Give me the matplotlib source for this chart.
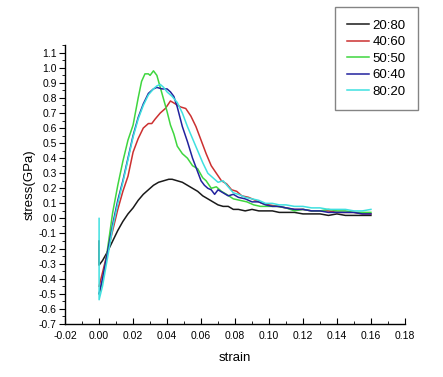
import matplotlib
matplotlib.use('Agg')
import matplotlib.pyplot as plt
from matplotlib.ticker import MultipleLocator

plt.rcParams['font.family'] = ['Liberation Sans', 'DejaVu Sans']

# 20:80
x_2080 = [0.0, 0.0, 0.002, 0.005, 0.008, 0.011, 0.014, 0.017, 0.020, 0.023, 0.026, 0.029,
          0.032, 0.035, 0.038, 0.041, 0.043, 0.046, 0.049, 0.052, 0.055, 0.058, 0.061,
          0.064, 0.067, 0.070, 0.073, 0.076, 0.079, 0.082, 0.086, 0.090, 0.094, 0.098,
          0.102, 0.106, 0.110, 0.115, 0.120, 0.125, 0.130, 0.135, 0.140, 0.145, 0.150,
          0.155, 0.160]
y_2080 = [-0.15, -0.31, -0.28, -0.22, -0.15, -0.08, -0.02, 0.03, 0.07, 0.12, 0.16, 0.19,
          0.22, 0.24, 0.25, 0.26, 0.26, 0.25, 0.24, 0.22, 0.20, 0.18, 0.15,
          0.13, 0.11, 0.09, 0.08, 0.08, 0.06, 0.06, 0.05, 0.06, 0.05, 0.05,
          0.05, 0.04, 0.04, 0.04, 0.03, 0.03, 0.03, 0.02, 0.03, 0.02, 0.02,
          0.02, 0.02]

# 40:60
x_4060 = [0.0, 0.002, 0.005, 0.008, 0.011, 0.014, 0.017, 0.020, 0.023, 0.026, 0.029, 0.031,
          0.033, 0.036, 0.039, 0.042, 0.045, 0.048, 0.051, 0.054, 0.057, 0.060, 0.063,
          0.066, 0.069, 0.072, 0.075, 0.078, 0.081, 0.084, 0.088, 0.092, 0.096, 0.100,
          0.105, 0.110, 0.115, 0.120, 0.125, 0.130, 0.135, 0.140, 0.145, 0.150, 0.155,
          0.160]
y_4060 = [-0.45, -0.36, -0.22, -0.08, 0.06, 0.18, 0.28, 0.44, 0.53, 0.60, 0.63, 0.63,
          0.66, 0.70, 0.73, 0.78, 0.76, 0.74, 0.73, 0.68, 0.61, 0.52, 0.43,
          0.35, 0.30, 0.25, 0.23, 0.19, 0.18, 0.15, 0.14, 0.12, 0.10, 0.09,
          0.08, 0.07, 0.06, 0.06, 0.05, 0.05, 0.05, 0.04, 0.04, 0.04, 0.03,
          0.03]

# 50:50
x_5050 = [0.0, 0.002, 0.004, 0.006, 0.008, 0.011, 0.014, 0.017, 0.020, 0.023, 0.025, 0.027,
          0.029, 0.030, 0.032, 0.034, 0.036, 0.038, 0.040, 0.042, 0.044, 0.046, 0.049,
          0.052, 0.055, 0.058, 0.061, 0.063, 0.066, 0.069, 0.072, 0.075, 0.079, 0.083,
          0.087, 0.091, 0.095, 0.100, 0.105, 0.110, 0.115, 0.120, 0.125, 0.130, 0.135,
          0.140, 0.145, 0.150, 0.155, 0.160]
y_5050 = [-0.50, -0.42, -0.28, -0.12, 0.04, 0.22, 0.38, 0.52, 0.62, 0.80, 0.91, 0.96,
          0.96, 0.95, 0.98, 0.95, 0.87, 0.79, 0.71, 0.62, 0.56, 0.48, 0.43,
          0.40, 0.35, 0.33, 0.27, 0.25, 0.20, 0.21, 0.18, 0.16, 0.13, 0.12,
          0.11, 0.09, 0.08, 0.08, 0.08, 0.07, 0.05, 0.06, 0.05, 0.05, 0.06,
          0.05, 0.05, 0.04, 0.04, 0.04]

# 60:40
x_6040 = [0.0, 0.002, 0.005, 0.008, 0.011, 0.014, 0.017, 0.020, 0.023, 0.026, 0.029, 0.032,
          0.034, 0.037, 0.040, 0.042, 0.044, 0.046, 0.049, 0.052, 0.055, 0.058, 0.060,
          0.062, 0.064, 0.066, 0.068, 0.070, 0.073, 0.076, 0.079, 0.082, 0.086, 0.090,
          0.094, 0.098, 0.102, 0.106, 0.110, 0.115, 0.120, 0.125, 0.130, 0.135, 0.140,
          0.145, 0.150, 0.155, 0.160]
y_6040 = [-0.50, -0.40, -0.22, -0.04, 0.12, 0.25, 0.40, 0.55, 0.67, 0.76, 0.83, 0.86,
          0.87, 0.86, 0.86, 0.84, 0.81, 0.74, 0.61, 0.51, 0.40, 0.31, 0.25,
          0.22, 0.20, 0.19, 0.16, 0.19, 0.17, 0.15, 0.16, 0.14, 0.13, 0.11,
          0.11, 0.09, 0.08, 0.08, 0.07, 0.06, 0.06, 0.05, 0.05, 0.04, 0.04,
          0.04, 0.04, 0.03, 0.03]

# 80:20
x_8020 = [0.0, 0.0, 0.002, 0.005, 0.008, 0.011, 0.014, 0.017, 0.020, 0.023, 0.026, 0.029,
          0.032, 0.034, 0.036, 0.038, 0.040, 0.043, 0.046, 0.049, 0.052, 0.055, 0.058,
          0.061, 0.064, 0.067, 0.070, 0.073, 0.076, 0.079, 0.082, 0.086, 0.090, 0.094,
          0.098, 0.102, 0.106, 0.110, 0.115, 0.120, 0.125, 0.130, 0.135, 0.140, 0.145,
          0.150, 0.155, 0.160]
y_8020 = [0.00, -0.54, -0.45, -0.26, -0.06, 0.10, 0.24, 0.39, 0.54, 0.66, 0.75, 0.82,
          0.86, 0.88, 0.89, 0.87, 0.84, 0.81, 0.77, 0.70, 0.61, 0.53, 0.45,
          0.37, 0.30, 0.27, 0.24, 0.25, 0.21, 0.17, 0.16, 0.14, 0.13, 0.12,
          0.10, 0.10, 0.09, 0.09, 0.08, 0.08, 0.07, 0.07, 0.06, 0.06, 0.06,
          0.05, 0.05, 0.06]

labels = ['20:80', '40:60', '50:50', '60:40', '80:20']
colors = ['#1a1a1a', '#cc3030', '#3fd63f', '#22229e', '#3fe0e0']
series = [(x_2080, y_2080), (x_4060, y_4060), (x_5050, y_5050),
          (x_6040, y_6040), (x_8020, y_8020)]

fig = plt.figure(figsize=(4.43, 3.77), dpi=100)
ax = fig.add_axes([0.147, 0.141, 0.767, 0.739])

lines = []
for (xs, ys), lab, c in zip(series, labels, colors):
    ln, = ax.plot(xs, ys, color=c, lw=1.1, label=lab)
    lines.append(ln)

ax.set_xlim(-0.02, 0.18)
ax.set_ylim(-0.7, 1.15)
ax.xaxis.set_minor_locator(MultipleLocator(0.01))
ax.yaxis.set_minor_locator(MultipleLocator(0.05))
ax.set_xticks([round(-0.02 + 0.02 * i, 2) for i in range(11)])
ax.set_xticklabels(['%.2f' % (-0.02 + 0.02 * i) for i in range(11)])
ax.set_yticks([round(-0.7 + 0.1 * i, 1) for i in range(19)])
ax.set_yticklabels(['%.1f' % (-0.7 + 0.1 * i) for i in range(19)])

for s in ['top', 'right']:
    ax.spines[s].set_visible(False)
ax.spines['left'].set_linewidth(1.0)
ax.spines['bottom'].set_linewidth(1.0)
ax.tick_params(axis='x', which='major', direction='in', length=4, labelsize=7.5, pad=5)
ax.tick_params(axis='x', which='minor', direction='in', length=2.5)
ax.tick_params(axis='y', which='major', direction='out', length=4, labelsize=7.5, pad=2)
ax.tick_params(axis='y', which='minor', direction='out', length=2.5)

ax.set_xlabel('strain', fontsize=9.5, labelpad=8)
ax.set_ylabel('stress(GPa)', fontsize=9.5, labelpad=2)

leg = fig.legend(handles=lines, loc='upper left', bbox_to_anchor=(0.756, 0.982),
                 borderaxespad=0, fontsize=9.5, frameon=True, fancybox=False,
                 handlelength=1.6, handletextpad=0.3, labelspacing=0.33,
                 borderpad=0.95, edgecolor='#666666')
leg.get_frame().set_linewidth(1.0)

fig.savefig('out.png', dpi=100)
